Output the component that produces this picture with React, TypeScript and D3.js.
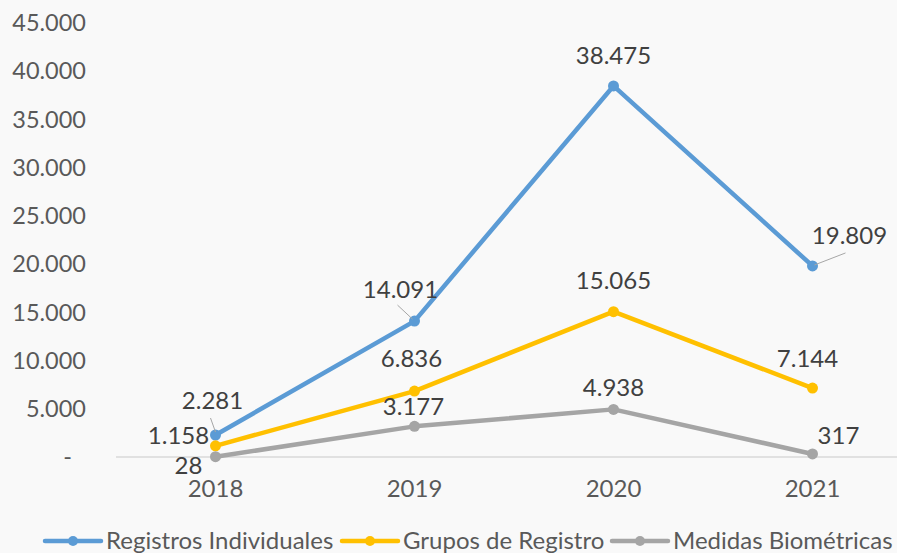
import React from "react";
import * as d3 from "d3";

const years = ["2018", "2019", "2020", "2021"];
const registrosIndividuales = [2281, 14091, 38475, 19809];
const gruposRegistro = [1158, 6836, 15065, 7144];
const medidasBiometricas = [28, 3177, 4938, 317];
const yTicks = [0, 5000, 10000, 15000, 20000, 25000, 30000, 35000, 40000, 45000];
const seriesNames = ["Registros Individuales", "Grupos de Registro", "Medidas Biométricas"];
const seriesColors = ["#5B9BD5", "#FFC000", "#A5A5A5"];

// label offsets (dx, dy) relative to point, and leader lines
const labelOffsets: [number, number, boolean][][] = [
  [[-3, -34, true], [-14, -32, true], [0, -30, false], [37, -30, true]],
  [[-37, -10, false], [-3, -32, false], [0, -31, false], [-5, -30, false]],
  [[-27, 9, false], [-1, -20, false], [0, -22, false], [26, -18, false]],
];

const fmt = (v: number) => (v === 0 ? "-" : d3.format(",")(v).replace(/,/g, "."));

export default function App() {
  const W = 897, H = 553;
  const x = d3.scaleBand<string>().domain(years).range([116, 912]);
  const y = d3.scaleLinear().domain([0, 45000]).range([457, 23]);
  const cx = (yr: string) => (x(yr) as number) + x.bandwidth() / 2;
  const allSeries = [registrosIndividuales, gruposRegistro, medidasBiometricas];
  const line = d3.line<number>().x((_, i) => cx(years[i])).y((d) => y(d));
  const font = "Lato, 'Open Sans', sans-serif";
  const legendX = [45, 342, 612];

  return (
    <svg width={W} height={H} style={{ position: "absolute", left: 0, top: 0, background: "#F9F9F9" }} fontFamily={font}>
      <rect width={W} height={H} fill="#F9F9F9" />
      {yTicks.map((t) => (
        <text key={t} x={t === 0 ? 72 : 86} y={y(t)} dy="0.35em" textAnchor="end" fontSize={23.5} fill="#595959">
          {fmt(t)}
        </text>
      ))}
      <line x1={116} x2={W} y1={y(0)} y2={y(0)} stroke="#D9D9D9" strokeWidth={1.5} />
      {years.map((yr) => (
        <text key={yr} x={cx(yr)} y={y(0) + 32} dy="0.35em" textAnchor="middle" fontSize={24} fill="#595959">
          {yr}
        </text>
      ))}
      {allSeries.map((s, si) => (
        <g key={si}>
          <path d={line(s) || ""} fill="none" stroke={seriesColors[si]} strokeWidth={4.5} strokeLinejoin="round" />
          {s.map((v, i) => (
            <circle key={i} cx={cx(years[i])} cy={y(v)} r={5.5} fill={seriesColors[si]} />
          ))}
        </g>
      ))}
      {allSeries.map((s, si) =>
        s.map((v, i) => {
          const [dx, dy, leader] = labelOffsets[si][i];
          const px = cx(years[i]);
          const py = y(v);
          let leaderEl = null;
          if (leader) {
            let x1 = px, y1 = py, x2 = px, y2 = py;
            if (i === 0) { x1 = px - 5; y1 = py - 17; x2 = px; y2 = py - 3; }
            if (i === 1) { x1 = px - 17; y1 = py - 16; x2 = px - 2; y2 = py - 2; }
            if (i === 3) { x1 = px + 33; y1 = py - 13; x2 = px + 2; y2 = py - 1; }
            leaderEl = <line x1={x1} y1={y1} x2={x2} y2={y2} stroke="#A6A6A6" strokeWidth={1} />;
          }
          return (
            <g key={`${si}-${i}`}>
              {leaderEl}
              <text x={px + dx} y={py + dy} dy="0.35em" textAnchor="middle" fontSize={24} fill="#404040">
                {fmt(v)}
              </text>
            </g>
          );
        })
      )}
      {seriesNames.map((n, i) => (
        <g key={n}>
          <line x1={legendX[i]} x2={legendX[i] + 56} y1={541} y2={541} stroke={seriesColors[i]} strokeWidth={4.5} strokeLinecap="round" />
          <circle cx={legendX[i] + 28} cy={541} r={5} fill={seriesColors[i]} />
          <text x={legendX[i] + 61} y={541} dy="0.35em" fontSize={24} fill="#595959">
            {n}
          </text>
        </g>
      ))}
    </svg>
  );
}
